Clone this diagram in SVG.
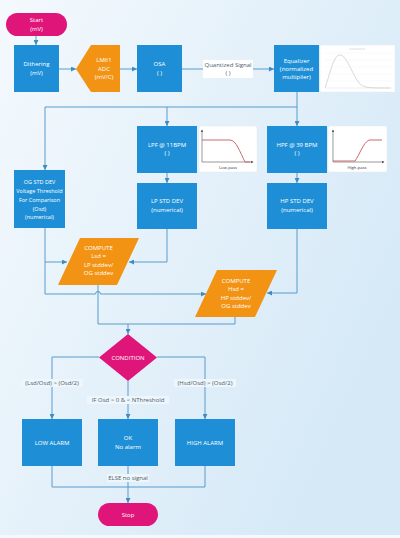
<svg xmlns="http://www.w3.org/2000/svg" width="400" height="538" viewBox="0 0 400 538">
<defs>
<linearGradient id="bg" x1="0" y1="0" x2="1" y2="0.6">
<stop offset="0" stop-color="#f4f9fd"/>
<stop offset="1" stop-color="#d5e9f7"/>
</linearGradient>
<marker id="arr" viewBox="0 0 6 6" refX="6" refY="3" markerWidth="5" markerHeight="5" orient="auto" markerUnits="userSpaceOnUse">
<path d="M0,0 L6,3 L0,6 z" fill="#3d8cc4"/>
</marker>
</defs>
<style>
.box{fill:#1e8fd6}
.ora{fill:#f29314}
.mag{fill:#e0157a}
.t{font-family:"Open Sans","Noto Sans",sans-serif;font-size:6px;fill:#ffffff;text-anchor:middle}
.ts{font-size:5.5px}
.lbl{font-family:"Open Sans","Noto Sans",sans-serif;font-size:6px;fill:#4d5d6b;text-anchor:middle}
.c{fill:none;stroke:#4a92c6;stroke-width:0.9}
.ca{fill:none;stroke:#4a92c6;stroke-width:0.9;marker-end:url(#arr)}
.lb{fill:#eef6fc}
.chart{fill:#ffffff;stroke:#e3eaf0;stroke-width:0.5}
.ax{fill:none;stroke:#555;stroke-width:0.6}
.cv{fill:none;stroke:#c96a6e;stroke-width:1}
.sm{font-family:"Open Sans","Noto Sans",sans-serif;font-size:4.2px;fill:#333;text-anchor:middle}
</style>
<rect x="0" y="0" width="400" height="535" fill="url(#bg)"/>
<rect x="0" y="535" width="400" height="3" fill="#f3f9fd"/>

<g id="connectors">
<path class="ca" d="M36,36 V45"/>
<path class="ca" d="M59,69 H76"/>
<path class="ca" d="M120,69 H137"/>
<path class="ca" d="M182,69 H274"/>
<path class="ca" d="M297,92 V126"/>
<path class="c" d="M297,107 H45"/>
<path class="ca" d="M45,107 V170"/>
<path class="ca" d="M167,107 V126"/>
<path class="ca" d="M167,173 V183"/>
<path class="ca" d="M297,173 V183"/>
<path class="ca" d="M167,229 V262 H129"/>
<path class="c" d="M45,228 V294"/>
<path class="ca" d="M45,262 H67"/>
<path class="ca" d="M45,294 H95.5 A2.5,2.5 0 0 1 100.5,294 H206"/>
<path class="ca" d="M297,229 V293 H267"/>
<path class="c" d="M98,285 V324 H235 V317"/>
<path class="ca" d="M128,324 V334"/>
<path class="ca" d="M99,357 H52 V419"/>
<path class="ca" d="M157,357 H205 V419"/>
<path class="ca" d="M128,381 V419"/>
<path class="c" d="M52,466 V487 H205 V466"/>
<path class="ca" d="M128,466 V503"/>
</g>

<g id="label-quantized">
<rect x="203" y="60" width="50" height="18" fill="#ffffff"/>
<text class="lbl" x="228" y="66.5">Quantized Signal</text>
<text class="lbl" x="228" y="74.5">( )</text>
</g>
<g id="label-low">
<rect class="lb" x="21" y="379" width="62" height="8"/>
<text class="lbl" x="52" y="385">(Lsd/Osd) &gt; (Osd/2)</text>
</g>
<g id="label-high">
<rect class="lb" x="174" y="379" width="62" height="8"/>
<text class="lbl" x="205" y="385">(Hsd/Osd) &gt; (Osd/2)</text>
</g>
<g id="label-ok">
<rect class="lb" x="87" y="396" width="82" height="8"/>
<text class="lbl" x="128" y="402">IF Osd &gt; 0 &amp; &lt; NThreshold</text>
</g>
<g id="label-else">
<rect class="lb" x="107" y="474" width="42" height="8"/>
<text class="lbl" x="128" y="480">ELSE no signal</text>
</g>

<g id="start">
<rect class="mag" x="6" y="13" width="61" height="23" rx="11.5"/>
<text class="t" x="36.5" y="22">Start</text>
<text class="t" x="36.5" y="31">(mV)</text>
</g>
<g id="dithering">
<rect class="box" x="14" y="45" width="45" height="47"/>
<text class="t" x="36.5" y="66">Dithering</text>
<text class="t" x="36.5" y="75">(mV)</text>
</g>
<g id="adc">
<path class="ora" d="M91,45 H120 V92 H91 L76,69 z"/>
<text class="t" x="104" y="62">LM61</text>
<text class="t" x="104" y="71">ADC</text>
<text class="t" x="104" y="79">(mV/C)</text>
</g>
<g id="osa">
<rect class="box" x="137" y="45" width="45" height="47"/>
<text class="t" x="159.5" y="66">OSA</text>
<text class="t" x="159.5" y="75">( )</text>
</g>
<g id="equalizer">
<rect class="box" x="274" y="45" width="45" height="47"/>
<text class="t" x="296.5" y="63">Equalizer</text>
<text class="t" x="296.5" y="71">(normalized</text>
<text class="t" x="296.5" y="79">multiplier)</text>
</g>
<g id="eq-chart">
<rect class="chart" x="320" y="45" width="75" height="47"/>
<g stroke="#eef0f2" stroke-width="0.4">
<path d="M325,53 H392 M325,60 H392 M325,67 H392 M325,74 H392 M325,81 H392"/>
</g>
<path d="M325,88 H392" stroke="#cfd4d8" stroke-width="0.4"/>
<path d="M325,88 C331,70 334,55 340,55 C347,55 352,75 360,84 C364,88 370,88 390,88" fill="none" stroke="#c4c7ca" stroke-width="0.7"/>
<rect x="349" y="48.5" width="16" height="1" fill="#dcdfe2"/>
</g>
<g id="lpf">
<rect class="box" x="137" y="126" width="60" height="47"/>
<text class="t" x="167" y="147">LPF @ 11BPM</text>
<text class="t" x="167" y="155">( )</text>
</g>
<g id="lp-chart">
<rect class="chart" x="199" y="126" width="58" height="46" rx="2"/>
<path class="ax" d="M202,162 V130 M202,162 H253"/>
<path d="M200.8,132 L202,129.5 L203.2,132 z M251,160.8 L253.5,162 L251,163.2 z" fill="#555"/>
<path class="cv" d="M202,140 H230 C236,140 240,152 245,162 H250"/>
<text class="sm" x="228" y="168.5">Low-pass</text>
</g>
<g id="hpf">
<rect class="box" x="267" y="126" width="60" height="47"/>
<text class="t" x="297" y="147">HPF @ 39 BPM</text>
<text class="t" x="297" y="155">( )</text>
</g>
<g id="hp-chart">
<rect class="chart" x="328" y="126" width="59" height="46" rx="2"/>
<path class="ax" d="M333,162 V130 M333,162 H384"/>
<path d="M331.8,132 L333,129.5 L334.2,132 z M382,160.8 L384.5,162 L382,163.2 z" fill="#555"/>
<path class="cv" d="M333,161 H355 C360,154 363,143 369,140 H382"/>
<text class="sm" x="357" y="168.5">High-pass</text>
</g>
<g id="og-std">
<rect class="box" x="14" y="170" width="51" height="58"/>
<text class="t ts" x="39.5" y="184">OG STD DEV</text>
<text class="t ts" x="39.5" y="193">Voltage Threshold</text>
<text class="t ts" x="39.5" y="202">For Comparison</text>
<text class="t ts" x="39.5" y="210.5">(Osd)</text>
<text class="t ts" x="39.5" y="219">(numerical)</text>
</g>
<g id="lp-std">
<rect class="box" x="137" y="183" width="60" height="46"/>
<text class="t" x="167" y="203">LP STD DEV</text>
<text class="t" x="167" y="212">(numerical)</text>
</g>
<g id="hp-std">
<rect class="box" x="267" y="183" width="60" height="46"/>
<text class="t" x="297" y="203">HP STD DEV</text>
<text class="t" x="297" y="212">(numerical)</text>
</g>
<g id="compute-lp">
<path class="ora" d="M80,238 H139 L117,285 H58 z"/>
<text class="t" x="98.5" y="250">COMPUTE</text>
<text class="t" x="98.5" y="258">Lsd =</text>
<text class="t" x="98.5" y="266.5">LP stddev/</text>
<text class="t" x="98.5" y="275">OG stddev</text>
</g>
<g id="compute-hp">
<path class="ora" d="M217,270 H277 L255,317 H195 z"/>
<text class="t" x="236" y="283">COMPUTE</text>
<text class="t" x="236" y="291">Hsd =</text>
<text class="t" x="236" y="300">HP stddev/</text>
<text class="t" x="236" y="308">OG stddev</text>
</g>
<g id="condition">
<path class="mag" d="M128,334 L157,357.5 L128,381 L99,357.5 z"/>
<text class="t" x="128" y="359.5">CONDITION</text>
</g>
<g id="low-alarm">
<rect class="box" x="22" y="419" width="60" height="47"/>
<text class="t" x="52" y="444.5">LOW ALARM</text>
</g>
<g id="ok">
<rect class="box" x="98" y="419" width="60" height="47"/>
<text class="t" x="128" y="439.5">OK</text>
<text class="t" x="128" y="449">No alarm</text>
</g>
<g id="high-alarm">
<rect class="box" x="175" y="419" width="60" height="47"/>
<text class="t" x="205" y="444.5">HIGH ALARM</text>
</g>
<g id="stop">
<rect class="mag" x="98" y="503" width="60" height="23" rx="11.5"/>
<text class="t" x="128" y="516.5">Stop</text>
</g>
</svg>
